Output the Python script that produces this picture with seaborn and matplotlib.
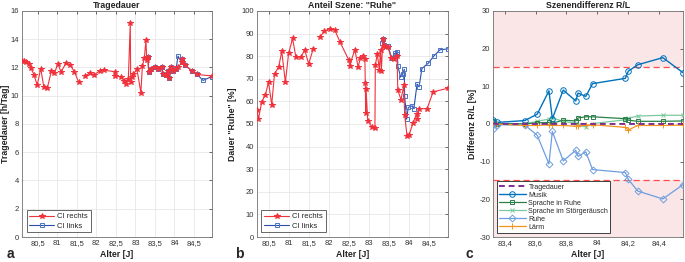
import numpy as np
import pandas as pd
import matplotlib
matplotlib.use("Agg")
import matplotlib.pyplot as plt
from matplotlib.ticker import FuncFormatter, MultipleLocator
import seaborn as sns

# ---------------- data ----------------
# Panel a: Tragedauer [h/Tag]
a_red_x1 = [80.10, 80.15, 80.21, 80.27, 80.33, 80.41, 80.49, 80.58, 80.66, 80.75, 80.85, 80.93,
            81.02, 81.10, 81.23, 81.34, 81.44, 81.55]
a_red_y1 = [12.45, 12.42, 12.35, 12.25, 11.95, 11.47, 10.74, 11.92, 10.62, 10.55, 11.72, 11.60,
            12.26, 11.68, 12.32, 12.14, 11.70, 10.95]
a_red_x2 = [81.72, 81.83, 81.95, 82.09, 82.20, 82.47, 82.48, 82.63, 82.72, 82.77, 82.82, 82.87,
            82.88, 82.92, 82.95, 83.04, 83.14, 83.18, 83.23, 83.27, 83.29, 83.32, 83.34, 83.41,
            83.50, 83.59, 83.67, 83.70, 83.78, 83.84, 83.87, 83.91, 83.95, 84.04, 84.10, 84.18,
            84.19, 84.27, 84.45, 84.58, 84.95]
a_red_y2 = [11.42, 11.58, 11.47, 11.78, 11.80, 11.70, 11.40, 11.35, 11.04, 10.85, 11.20, 15.12,
            10.95, 11.35, 11.55, 11.88, 10.22, 12.10, 12.68, 13.93, 12.50, 12.72, 11.70, 11.90,
            12.05, 11.90, 12.00, 11.55, 11.48, 11.75, 11.25, 12.00, 11.75, 11.88, 12.00, 12.35,
            12.60, 12.15, 11.75, 11.50, 11.40]
a_blue_x = [83.32, 83.34, 83.41, 83.50, 83.59, 83.67, 83.70, 83.78, 83.84, 83.87, 83.91, 83.95,
            84.04, 84.09, 84.18, 84.19, 84.27, 84.45, 84.58, 84.73, 84.95]
a_blue_y = [12.75, 11.70, 11.90, 12.05, 11.90, 12.00, 11.55, 11.48, 11.75, 11.25, 12.00, 11.75,
            11.88, 12.80, 12.35, 12.58, 12.15, 11.75, 11.50, 11.08, 11.35]

# Panel b: Anteil Szene "Ruhe" [%]
b_red_x1 = [80.21, 80.25, 80.33, 80.42, 80.50, 80.58, 80.65, 80.75, 80.83, 80.92, 81.00, 81.10,
            81.18, 81.31, 81.40, 81.50, 81.61]
b_red_y1 = [56.1, 52.2, 59.8, 62.8, 68.4, 58.6, 72.3, 75.0, 82.1, 68.4, 81.2, 87.8,
            79.7, 79.6, 82.8, 76.6, 83.0]
b_red_x2 = [81.78, 81.89, 82.02, 82.15, 82.28, 82.50, 82.52, 82.65, 82.73, 82.79, 82.86, 82.90,
            82.91, 82.92, 82.93, 82.97, 83.07, 83.15, 83.16, 83.21, 83.26, 83.29, 83.31, 83.34,
            83.36, 83.41, 83.47, 83.56, 83.62, 83.70, 83.72, 83.80, 83.87, 83.89, 83.95, 84.00,
            84.10, 84.19, 84.21, 84.25, 84.45, 84.60, 84.97]
b_red_y2 = [88.5, 91.0, 92.2, 91.5, 86.3, 78.2, 75.8, 82.9, 75.3, 79.0, 80.0, 78.6,
            67.9, 55.0, 65.4, 51.5, 48.8, 48.1, 76.0, 81.0, 74.0, 82.5, 73.5, 84.5,
            87.5, 84.5, 84.2, 79.0, 78.7, 80.0, 65.0, 60.7, 67.3, 54.0, 44.8, 45.2,
            50.4, 54.5, 52.0, 56.7, 56.8, 64.2, 65.8]
b_blue_x = [83.33, 83.35, 83.38, 83.42, 83.48, 83.57, 83.64, 83.69, 83.71, 83.72, 83.79, 83.84,
            83.88, 83.89, 83.94, 83.98, 84.08, 84.12, 84.20, 84.25, 84.32, 84.48, 84.62, 84.77,
            84.97]
b_blue_y = [86.0, 87.5, 84.8, 84.5, 84.3, 79.0, 81.2, 81.0, 81.7, 75.7, 70.7, 72.2,
            74.2, 62.4, 52.1, 57.3, 58.0, 56.8, 67.7, 66.4, 74.5, 76.9, 80.1, 82.8,
            83.2]

# Panel c: Szenendifferenz R/L [%]
c_x = [83.324, 83.35, 83.53, 83.611, 83.687, 83.709, 83.78, 83.861, 83.876, 83.926, 83.97,
       84.183, 84.202, 84.263, 84.426, 84.557]
c_tragedauer = [0.1, 0.0, 0.0, 0.0, 0.0, 0.0, 0.0, 0.0, 0.0, 0.0, 0.0, 0.0, 0.0, 0.0, 0.0, 0.0]
c_musik = [1.1, 0.4, 0.9, 2.6, 8.8, 1.4, 9.0, 6.1, 8.2, 7.3, 10.7, 12.1, 14.0, 15.7, 17.6, 13.6]
c_spr_ruhe = [0.7, 0.1, 0.0, 0.3, 0.4, 0.2, 1.0, 0.8, 1.6, 1.9, 1.9, 1.4, 1.0, 0.7, 0.7, 0.8]
c_spr_stoer = [0.4, 0.2, 0.0, 0.7, 1.3, 1.6, 0.7, 0.2, -0.3, -0.8, 0.1, 1.1, 1.5, 2.1, 2.3, 2.3]
c_ruhe = [-1.4, -0.2, -0.3, -3.0, -10.6, -2.0, -9.8, -7.0, -8.6, -7.4, -12.1, -12.9, -14.7,
          -17.8, -19.9, -16.1]
c_laerm = [0.2, 0.0, -0.4, -0.4, -0.2, -0.4, -0.4, -0.6, -0.5, -0.3, -0.2, -0.9, -1.6, -0.4,
           -0.4, -0.3]
c_labels = ["Tragedauer", "Musik", "Sprache in Ruhe", "Sprache im Störgeräusch", "Ruhe", "Lärm"]

# ---------------- style ----------------
sns.set_style("white")
plt.rcParams["font.family"] = ["Liberation Sans", "DejaVu Sans"]
plt.rcParams["axes.linewidth"] = 0.6

RED = "#F0323C"
BLUE = "#2B4FA8"
BLUE_M = "#4A72C8"
AX_COL = "#707070"
FS = 5.5

fmt = FuncFormatter(lambda v, p: ("{:g}".format(round(v, 6))).replace(".", ","))

fig = plt.figure(figsize=(6.85, 2.62), dpi=100)
bottom, height = 0.0954, 0.863
ax_a = fig.add_axes([0.032, bottom, 0.277, height])
ax_b = fig.add_axes([0.375, bottom, 0.279, height])
ax_c = fig.add_axes([0.7197, bottom, 0.2774, height])


def style_axes(ax, grid=True):
    for s in ax.spines.values():
        s.set_color(AX_COL)
        s.set_linewidth(0.6)
    ax.tick_params(direction="in", length=2.5, width=0.5, colors="#333333",
                   labelsize=FS, top=True, right=True, pad=2,
                   labelcolor="#333333")
    ax.xaxis.set_major_formatter(fmt)
    ax.yaxis.set_major_formatter(fmt)
    if grid:
        ax.grid(True, color="#E3E3E3", linewidth=0.5, zorder=0)
        ax.set_axisbelow(True)


def line(ax, x, y, color, marker, label=None, ms=4, mfc=None, mec=None, lw=0.8, ls="-", z=3, mew=0.7):
    d = pd.DataFrame({"x": x, "y": y})
    kw = dict(data=d, x="x", y="y", ax=ax, color=color, linewidth=lw, estimator=None,
              sort=False, linestyle=ls, zorder=z)
    if marker is not None:
        kw.update(marker=marker, markersize=ms, markeredgewidth=mew,
                  markerfacecolor=mfc if mfc is not None else color,
                  markeredgecolor=mec if mec is not None else color)
    if label is not None:
        kw["label"] = label
    sns.lineplot(**kw)


def set_ylab(ax, text, xpos):
    ax.set_ylabel(text, fontsize=FS + 0.8, fontweight="bold", color="#222222")
    ax.yaxis.label.set_va("center")
    ax.yaxis.set_label_coords(xpos, 0.5)


# ---------------- panel a ----------------
line(ax_a, a_red_x1, a_red_y1, RED, "*", label="CI rechts", ms=3.8)
line(ax_a, a_red_x2, a_red_y2, RED, "*", ms=3.8)
line(ax_a, a_blue_x, a_blue_y, BLUE, "s", label="CI links", ms=3.3, mfc="none", mec=BLUE_M, z=2)
ax_a.set_xlim(a_red_x1[0], a_red_x2[-1])
ax_a.set_ylim(0, 16)
ax_a.yaxis.set_major_locator(MultipleLocator(2))
ax_a.set_xticks(np.arange(80.5, 84.51, 0.5))
style_axes(ax_a)
ax_a.set_title("Tragedauer", fontsize=FS + 0.8, fontweight="bold", pad=2, color="#222222")
set_ylab(ax_a, "Tragedauer [h/Tag]", -0.085)
ax_a.set_xlabel("Alter [J]", fontsize=FS + 0.8, fontweight="bold", labelpad=2, color="#222222")

# ---------------- panel b ----------------
line(ax_b, b_red_x1, b_red_y1, RED, "*", label="CI rechts", ms=3.8)
line(ax_b, b_red_x2, b_red_y2, RED, "*", ms=3.8)
line(ax_b, b_blue_x, b_blue_y, BLUE, "s", label="CI links", ms=3.3, mfc="none", mec=BLUE_M, z=2)
ax_b.set_xlim(b_red_x1[0], b_red_x2[-1])
ax_b.set_ylim(0, 100)
ax_b.set_xticks(np.arange(80.5, 84.51, 0.5))
ax_b.yaxis.set_major_locator(MultipleLocator(10))
style_axes(ax_b)
ax_b.set_title('Anteil Szene: "Ruhe"', fontsize=FS + 0.8, fontweight="bold", pad=2, color="#222222")
set_ylab(ax_b, 'Dauer "Ruhe" [%]', -0.125)
ax_b.set_xlabel("Alter [J]", fontsize=FS + 0.8, fontweight="bold", labelpad=2, color="#222222")

for ax in (ax_a, ax_b):
    leg = ax.legend(loc="lower left", fontsize=FS, frameon=True, fancybox=False,
                    edgecolor="#222222", handlelength=3.3, borderpad=0.35,
                    labelspacing=0.25, handletextpad=0.4, borderaxespad=0.6)
    leg.get_frame().set_linewidth(0.6)

# ---------------- panel c ----------------
ax_c.axhspan(15, 30, color="#FAE6E6", zorder=0, lw=0)
ax_c.axhspan(-30, -15, color="#FAE6E6", zorder=0, lw=0)
ax_c.axhline(15, color="#FF4B4B", linestyle=(0, (5, 3)), linewidth=0.9, zorder=1)
ax_c.axhline(-15, color="#FF4B4B", linestyle=(0, (5, 3)), linewidth=0.9, zorder=1)

line(ax_c, c_x, c_tragedauer, "#7E2F8E", None, label=c_labels[0], lw=1.4, ls=(0, (3, 2)), z=6)
line(ax_c, c_x, c_musik, "#0072BD", "o", label=c_labels[1], ms=4, mfc="none", lw=1.0, z=5)
line(ax_c, c_x, c_spr_ruhe, "#2A8048", "s", label=c_labels[2], ms=3.5, mfc="none", lw=0.9, z=4)
line(ax_c, c_x, c_spr_stoer, "#7CC9A0", "x", label=c_labels[3], ms=3.5, lw=0.9, z=3)
line(ax_c, c_x, c_ruhe, "#6E9EE0", "D", label=c_labels[4], ms=3.5, mfc="none", lw=0.9, z=4)
line(ax_c, c_x, c_laerm, "#F7921E", "+", label=c_labels[5], ms=4, lw=0.9, z=5)

ax_c.set_xlim(c_x[0], c_x[-1])
ax_c.set_ylim(-30, 30)
ax_c.set_xticks(np.arange(83.4, 84.41, 0.2))
ax_c.yaxis.set_major_locator(MultipleLocator(10))
style_axes(ax_c, grid=False)
ax_c.set_title("Szenendifferenz R/L", fontsize=FS + 0.8, fontweight="bold", pad=2, color="#222222")
set_ylab(ax_c, "Differenz R/L [%]", -0.11)
ax_c.set_xlabel("Alter [J]", fontsize=FS + 0.8, fontweight="bold", labelpad=2, color="#222222")
leg = ax_c.legend(loc="lower left", fontsize=FS - 0.5, frameon=True, fancybox=False,
                  edgecolor="#222222", handlelength=3.8, borderpad=0.3,
                  labelspacing=0.15, handletextpad=0.4, borderaxespad=0.6,
                  facecolor="white", framealpha=1)
leg.get_frame().set_linewidth(0.6)

# panel letters
for lx, lt in ((0.009, "a"), (0.343, "b"), (0.679, "c")):
    fig.text(lx, 0.03, lt, fontsize=10, fontweight="bold", va="center", ha="left")

fig.savefig("out.png", dpi=100)
